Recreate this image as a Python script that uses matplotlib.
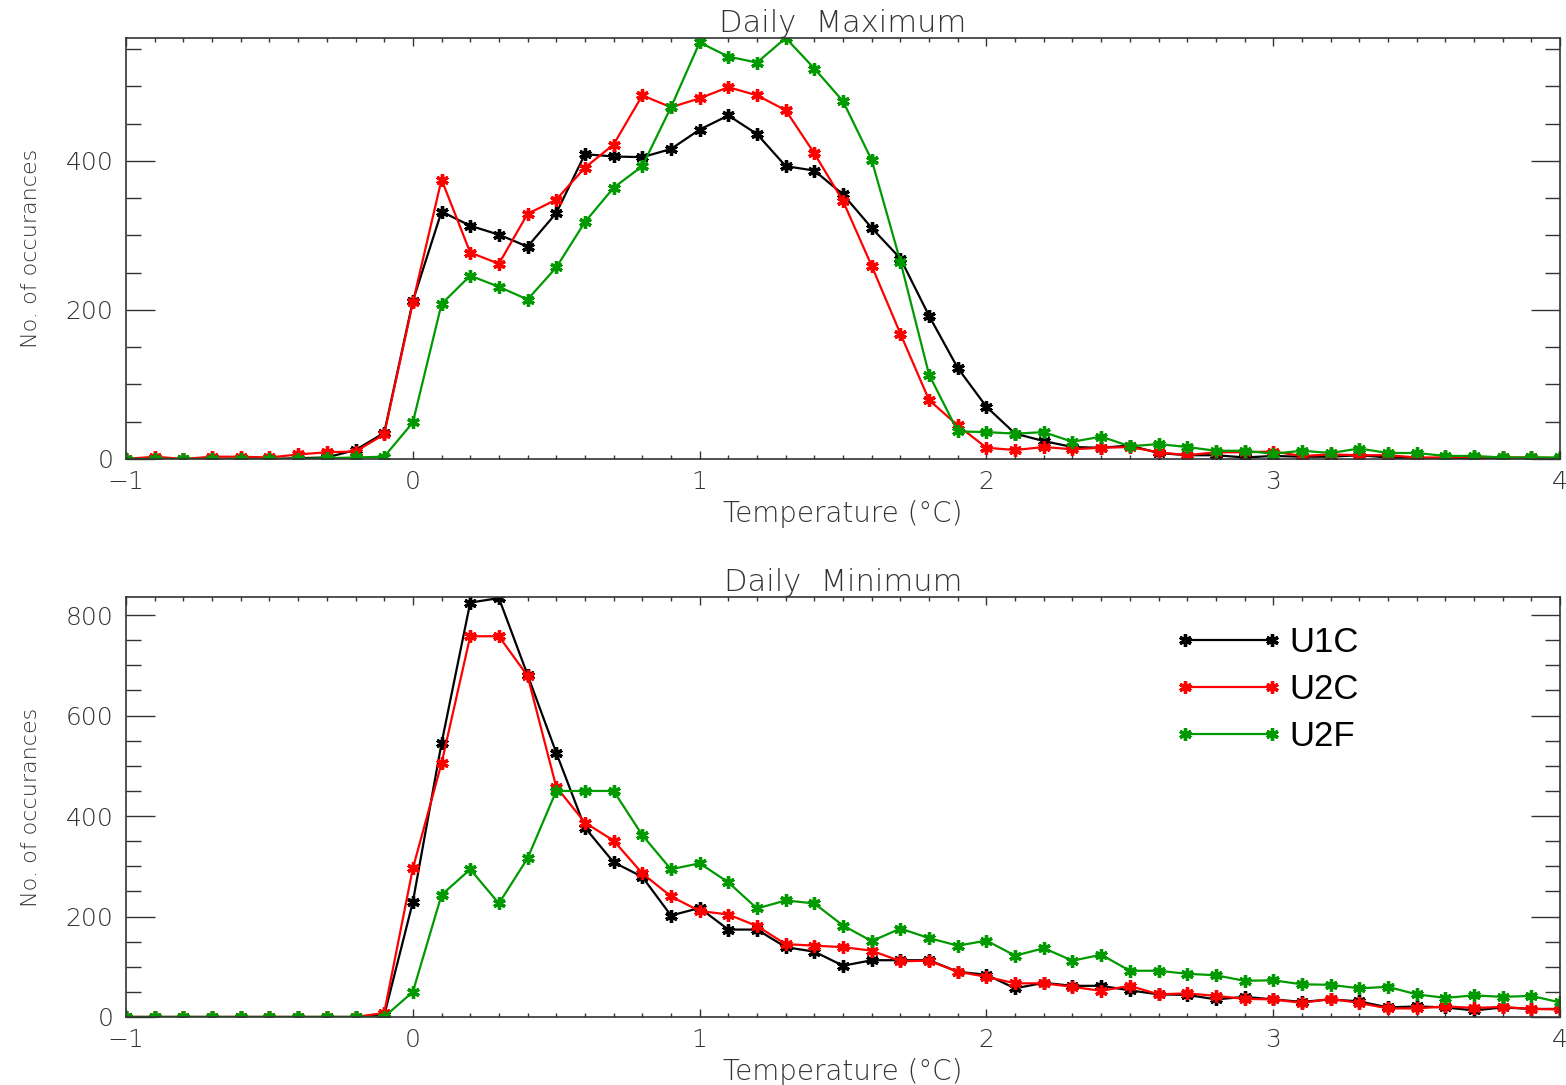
import numpy as np
import matplotlib.pyplot as plt

# temperature bins (deg C)
temps = [-1.0, -0.9, -0.8, -0.7, -0.6, -0.5, -0.4, -0.3, -0.2, -0.1,
         0.0, 0.1, 0.2, 0.3, 0.4, 0.5, 0.6, 0.7, 0.8, 0.9,
         1.0, 1.1, 1.2, 1.3, 1.4, 1.5, 1.6, 1.7, 1.8, 1.9,
         2.0, 2.1, 2.2, 2.3, 2.4, 2.5, 2.6, 2.7, 2.8, 2.9,
         3.0, 3.1, 3.2, 3.3, 3.4, 3.5, 3.6, 3.7, 3.8, 3.9, 4.0]

# daily maximum counts
max_u1c = [0, 0, 0, 0, 0, 0, 1, 2, 12, 35,
           212, 332, 313, 301, 285, 330, 409, 406, 405, 416,
           442, 461, 436, 393, 387, 355, 310, 269, 192, 122,
           70, 34, 24, 16, 15, 18, 8, 5, 5, 2,
           4, 3, 3, 5, 2, 1, 0, 0, 1, 0, 0]
max_u2c = [0, 3, 0, 3, 3, 2, 6, 9, 10, 33,
           210, 375, 277, 262, 329, 348, 391, 422, 488, 472,
           484, 499, 488, 468, 410, 346, 259, 168, 79, 45,
           15, 12, 16, 13, 15, 16, 9, 5, 9, 9,
           10, 4, 6, 5, 5, 2, 2, 3, 2, 2, 1]
max_u2f = [0, 0, 0, 0, 0, 0, 0, 1, 2, 3,
           49, 208, 246, 231, 214, 257, 318, 364, 393, 472,
           559, 540, 532, 565, 524, 480, 401, 265, 113, 37,
           36, 34, 36, 23, 30, 17, 20, 16, 11, 11,
           7, 11, 8, 14, 8, 8, 4, 4, 2, 2, 2]

# daily minimum counts
min_u1c = [0, 0, 0, 0, 0, 0, 0, 0, 0, 3,
           229, 545, 825, 834, 681, 526, 377, 308, 279, 202,
           217, 174, 174, 139, 130, 102, 113, 113, 113, 90,
           84, 57, 68, 62, 62, 53, 45, 44, 35, 40,
           35, 30, 35, 31, 19, 21, 19, 13, 19, 16, 16]
min_u2c = [0, 0, 0, 0, 0, 0, 0, 0, 0, 8,
           296, 505, 758, 758, 679, 458, 387, 351, 286, 240,
           211, 204, 181, 145, 142, 139, 132, 111, 112, 90,
           80, 67, 67, 60, 52, 62, 45, 47, 42, 36,
           35, 28, 36, 28, 17, 17, 21, 18, 20, 16, 15]
min_u2f = [0, 0, 0, 0, 0, 0, 0, 0, 0, 0,
           50, 243, 294, 226, 316, 450, 450, 450, 362, 294,
           306, 268, 216, 232, 226, 182, 151, 176, 157, 142,
           152, 122, 137, 112, 124, 92, 92, 86, 83, 72,
           73, 65, 64, 57, 60, 45, 38, 43, 40, 42, 29]

names = ['U1C', 'U2C', 'U2F']
colors = ['black', '#ff0000', '#009a00']

tcol = '#333333'
plt.rcParams['font.weight'] = 'light'
plt.rcParams['axes.titleweight'] = 'light'
plt.rcParams['axes.labelweight'] = 'light'
fig = plt.figure(figsize=(15.66, 10.85), dpi=100)
ax1 = fig.add_axes([0.0805, 0.577, 0.9157, 0.388])
ax2 = fig.add_axes([0.0805, 0.0627, 0.9157, 0.387])

panels = [(ax1, 'Daily  Maximum', [max_u1c, max_u2c, max_u2f], 565, [0, 200, 400]),
          (ax2, 'Daily  Minimum', [min_u1c, min_u2c, min_u2f], 836, [0, 200, 400, 600, 800])]

for ax, title, series, ymax, yt in panels:
    for vals, name, c in zip(series, names, colors):
        ax.plot(temps, vals, color=c, linewidth=1.6, marker=(6, 2, 0),
                markersize=9, markeredgewidth=2.4, label=name)
    ax.set_xlim(-1, 4)
    ax.set_ylim(0, ymax)
    ax.set_xticks([-1, 0, 1, 2, 3, 4])
    ax.set_xticks(np.arange(-1, 4.01, 0.1), minor=True)
    ax.set_yticks(yt)
    ax.set_yticks(np.arange(0, ymax, 50), minor=True)
    ax.tick_params(which='both', direction='in', top=True, right=True,
                   colors=tcol, labelsize=18, labelcolor=tcol)
    ax.tick_params(axis='x', which='major', length=6, width=1, pad=8)
    ax.tick_params(axis='x', which='minor', length=3, width=1)
    ax.tick_params(axis='y', which='major', length=21, width=1, pad=9)
    ax.tick_params(axis='y', which='minor', length=10.5, width=1)
    for s in ax.spines.values():
        s.set_color(tcol)
        s.set_linewidth(1.2)
    ax.set_title(title, fontsize=22, color=tcol, pad=4)
    ax.set_xlabel('Temperature (°C)', fontsize=20, color=tcol, labelpad=4)
    ax.set_ylabel('No. of occurances', fontsize=16, color=tcol, labelpad=18)

leg = ax2.legend(loc='upper left', bbox_to_anchor=(0.731, 0.93), frameon=False,
                 numpoints=2, handlelength=3.1, handletextpad=0.2,
                 labelspacing=0.4, borderpad=0, borderaxespad=0,
                 prop={'family': ['Liberation Sans Narrow', 'Liberation Sans'],
                       'size': 25, 'weight': 'normal'})

plt.savefig('out.png', dpi=100)
